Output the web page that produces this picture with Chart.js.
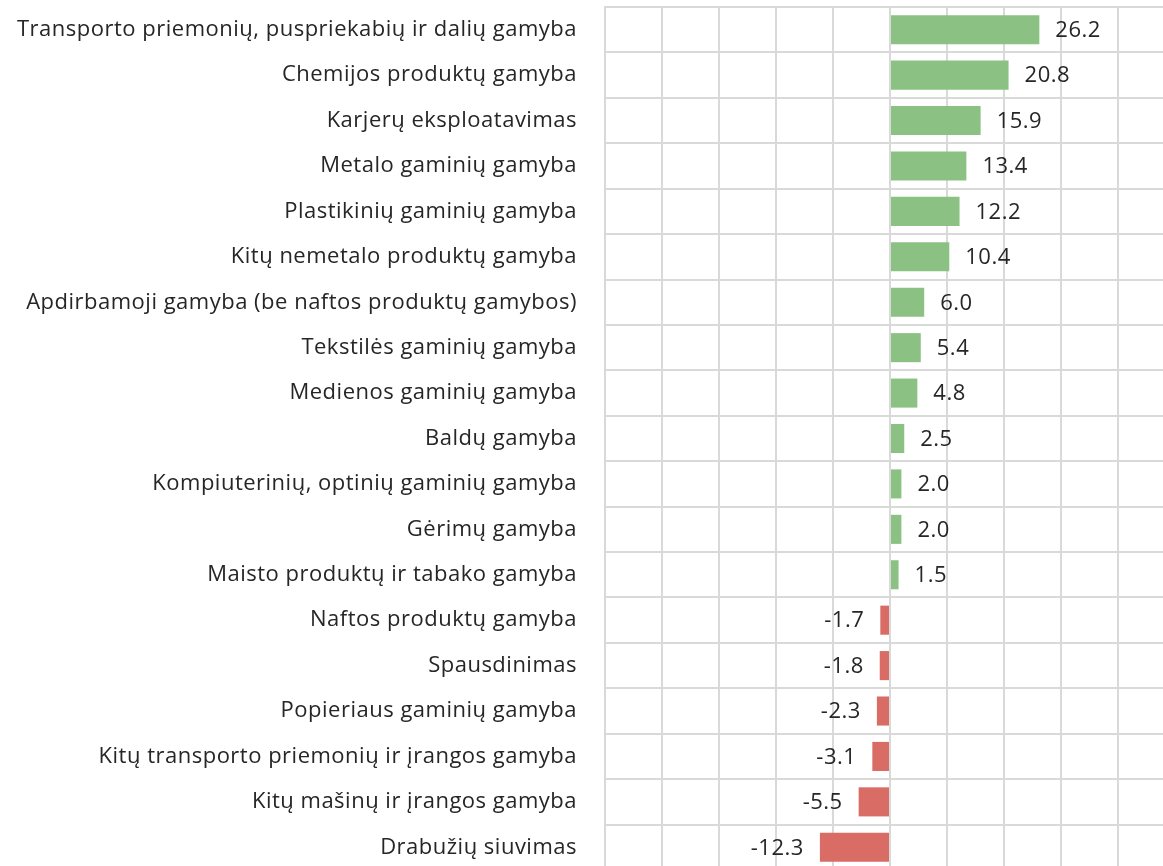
<!DOCTYPE html>
<html>
<head>
<meta charset="utf-8">
<script src="https://cdn.jsdelivr.net/npm/chart.js@4.4.0/dist/chart.umd.min.js"></script>
<style>
  html, body { margin: 0; padding: 0; background: #ffffff; overflow: hidden; }
  #wrap { width: 1163px; height: 866px; overflow: hidden; position: relative; }
  #c { position: absolute; left: 0; top: 0; }
</style>
</head>
<body>
<div id="wrap"><canvas id="c" width="1180" height="880" style="width:1180px;height:880px"></canvas></div>
<script>
const categories = [
  "Transporto priemonių, puspriekabių ir dalių gamyba",
  "Chemijos produktų gamyba",
  "Karjerų eksploatavimas",
  "Metalo gaminių gamyba",
  "Plastikinių gaminių gamyba",
  "Kitų nemetalo produktų gamyba",
  "Apdirbamoji gamyba (be naftos produktų gamybos)",
  "Tekstilės gaminių gamyba",
  "Medienos gaminių gamyba",
  "Baldų gamyba",
  "Kompiuterinių, optinių gaminių gamyba",
  "Gėrimų gamyba",
  "Maisto produktų ir tabako gamyba",
  "Naftos produktų gamyba",
  "Spausdinimas",
  "Popieriaus gaminių gamyba",
  "Kitų transporto priemonių ir įrangos gamyba",
  "Kitų mašinų ir įrangos gamyba",
  "Drabužių siuvimas"
];
const values = [26.2, 20.8, 15.9, 13.4, 12.2, 10.4, 6.0, 5.4, 4.8, 2.5, 2.0, 2.0, 1.5, -1.7, -1.8, -2.3, -3.1, -5.5, -12.3];
const axisMin = -50;
const axisMax = 50;
const axisStep = 10;

const FONT = "'Open Sans', 'Noto Sans', sans-serif";
const FONT_SIZE = 22;
const TEXT = '#262626';
const POS = '#8bc283';
const NEG = '#d96c64';

const spacing = {
  id: 'spacing',
  beforeDraw(chart) { chart.ctx.letterSpacing = '0.5px'; }
};

const valueLabels = {
  id: 'valueLabels',
  afterDatasetsDraw(chart) {
    const ctx = chart.ctx;
    const meta = chart.getDatasetMeta(0);
    ctx.save();
    ctx.font = FONT_SIZE + 'px ' + FONT;
    ctx.fillStyle = TEXT;
    ctx.textBaseline = 'middle';
    meta.data.forEach((bar, i) => {
      const v = values[i];
      const txt = v.toFixed(1);
      if (v >= 0) {
        ctx.textAlign = 'left';
        ctx.fillText(txt, bar.x + 16, bar.y + 1);
      } else {
        ctx.textAlign = 'right';
        ctx.fillText(txt, bar.x - 16, bar.y + 1);
      }
    });
    ctx.restore();
  }
};

new Chart(document.getElementById('c'), {
  type: 'bar',
  data: {
    labels: categories,
    datasets: [{
      data: values,
      backgroundColor: values.map(v => v >= 0 ? POS : NEG),
      borderWidth: 0,
      barPercentage: 0.64,
      categoryPercentage: 1.0
    }]
  },
  options: {
    indexAxis: 'y',
    responsive: false,
    devicePixelRatio: 1,
    animation: false,
    layout: { padding: { left: 0, right: 5, top: 7, bottom: 10 } },
    plugins: { legend: { display: false }, tooltip: { enabled: false } },
    scales: {
      x: {
        min: axisMin,
        max: axisMax,
        ticks: { display: false, stepSize: axisStep, padding: 0 },
        grid: { color: '#d9d9d9', lineWidth: 2, drawTicks: false },
        border: { display: false },
        afterFit(scale) { scale.height = 0; scale.paddingLeft = 0; scale.paddingRight = 0; }
      },
      y: {
        afterFit(scale) { scale.width = 605; scale.paddingTop = 0; scale.paddingBottom = 0; },
        ticks: { color: TEXT, font: { family: FONT, size: FONT_SIZE }, padding: 0 },
        grid: { color: '#d9d9d9', lineWidth: 2, drawTicks: true, tickLength: 28, tickColor: 'rgba(0,0,0,0)', offset: true },
        border: { display: true, color: '#d9d9d9', width: 2 }
      }
    }
  },
  plugins: [spacing, valueLabels]
});
</script>
</body>
</html>
